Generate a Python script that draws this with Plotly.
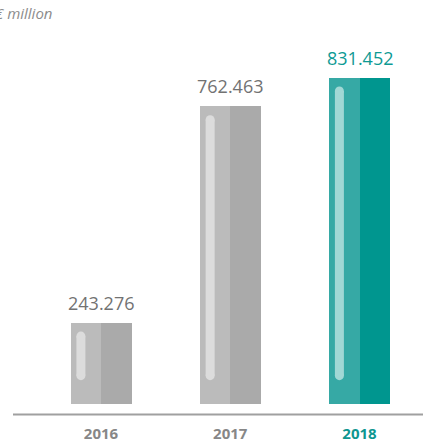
import plotly.graph_objects as go

# --- data ---------------------------------------------------------------
years = ["2016", "2017", "2018"]
values = [243.276, 762.463, 831.452]
value_labels = ["243.276", "762.463", "831.452"]
unit_label = "€ million"

# --- style ----------------------------------------------------------------
W, H = 423, 443
MARGIN_B = 37
PLOT_H = H - MARGIN_B
PX_PER_UNIT = 0.4188          # vertical scale of the bars
Y_MIN = 48.09                 # value at the bottom edge of the plot area
Y_MAX = Y_MIN + PLOT_H / PX_PER_UNIT
X_PX_PER_UNIT = 129.25
X_MIN = -101 / X_PX_PER_UNIT
X_MAX = X_MIN + W / X_PX_PER_UNIT
BAR_W = 61 / X_PX_PER_UNIT

GREY_L, GREY_R, GREY_HI = "#bbbbbb", "#aaaaaa", "#dcdcdc"
TEAL_L, TEAL_R, TEAL_HI = "#36a9a5", "#00968f", "#a1d8d5"
highlight = [False, False, True]

left_cols = [TEAL_L if h else GREY_L for h in highlight]
right_cols = [TEAL_R if h else GREY_R for h in highlight]
hi_cols = [TEAL_HI if h else GREY_HI for h in highlight]
label_cols = ["#0e9a94" if h else "#727272" for h in highlight]
tick_cols = ["#0e9690" if h else "#878787" for h in highlight]

xs = list(range(len(years)))
units_per_px = 1 / PX_PER_UNIT

fig = go.Figure()

# left (lighter) half of each bar
fig.add_trace(go.Bar(
    x=xs, y=values, base=0, width=BAR_W / 2, offset=-BAR_W / 2,
    marker=dict(color=left_cols, line=dict(width=0)),
    hoverinfo="skip", showlegend=False,
))
# right (darker) half of each bar
fig.add_trace(go.Bar(
    x=xs, y=values, base=0, width=BAR_W / 2, offset=0,
    marker=dict(color=right_cols, line=dict(width=0)),
    hoverinfo="skip", showlegend=False,
))

# rounded highlight stripe inside the left half of each bar
PILL_W = 9
r = PILL_W / 2
for i, v in enumerate(values):
    xc = i - BAR_W / 2 + 10.4 / X_PX_PER_UNIT
    y_top = v - (9 + r) * units_per_px
    y_bot = Y_MIN + (24 + r) * units_per_px
    fig.add_trace(go.Scatter(
        x=[xc, xc], y=[y_bot, y_top], mode="lines+markers",
        line=dict(color=hi_cols[i], width=PILL_W),
        marker=dict(color=hi_cols[i], size=PILL_W, line=dict(width=0)),
        hoverinfo="skip", showlegend=False,
    ))

# value labels above the bars
for i, v in enumerate(values):
    fig.add_annotation(
        x=i, y=v, xref="x", yref="y", text=value_labels[i],
        showarrow=False, yanchor="bottom", yshift=6,
        font=dict(family="Open Sans", size=18, color=label_cols[i]),
    )

# unit caption in the top-left corner (runs off the left edge)
fig.add_annotation(
    x=-7 / W, y=1 - 13 / PLOT_H, xref="paper", yref="paper",
    xanchor="left", yanchor="middle", showarrow=False,
    text="<i>" + unit_label + "</i>",
    font=dict(family="Open Sans", size=15, color="#8c8c8c"),
)

# baseline rule below the bars
fig.add_shape(
    type="line", xref="paper", yref="paper",
    x0=13 / W, x1=1, y0=-10.5 / PLOT_H, y1=-10.5 / PLOT_H,
    line=dict(color="#a0a0a0", width=2),
)

tick_text = [
    f'<span style="color:{tick_cols[i]}"><b>{y}</b></span>' for i, y in enumerate(years)
]

fig.update_layout(
    width=W, height=H,
    margin=dict(l=0, r=0, t=0, b=MARGIN_B, pad=0),
    paper_bgcolor="white", plot_bgcolor="white",
    barmode="overlay", bargap=0,
    showlegend=False,
    xaxis=dict(
        range=[X_MIN, X_MAX], tickvals=xs, ticktext=tick_text,
        showgrid=False, zeroline=False, showline=False,
        ticks="outside", ticklen=16, tickcolor="rgba(0,0,0,0)",
        tickfont=dict(family="Open Sans", size=15, color="#878787"),
        fixedrange=True,
    ),
    yaxis=dict(
        range=[Y_MIN, Y_MAX], visible=False, showgrid=False,
        zeroline=False, fixedrange=True,
    ),
)

fig.write_html("out.html", config={"displayModeBar": False})
